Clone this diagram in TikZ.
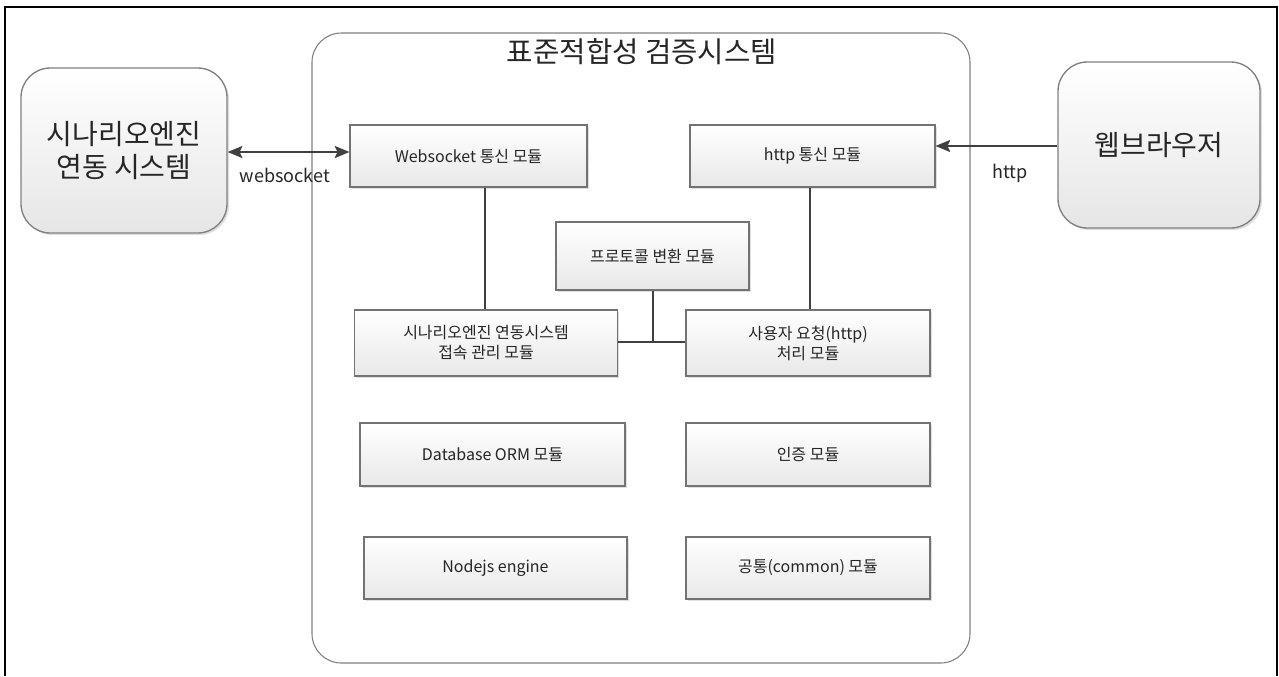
\documentclass[tikz,border=0pt]{standalone}
\usepackage{fontspec}
\setmainfont{Noto Sans CJK KR}
\usetikzlibrary{arrows.meta,shadows}
\begin{document}
\begin{tikzpicture}[x=0.75pt,y=-0.75pt,
  modbox/.style={draw=black!55, line width=0.8pt, top color=white, bottom color=black!9,
    drop shadow={opacity=0.25, shadow xshift=1.2pt, shadow yshift=-1.2pt},
    text=black!85, font=\fontsize{12}{15}\selectfont, align=center, inner sep=0pt},
  extsys/.style={draw=black!50, line width=1pt, rounded corners=22pt,
    top color=white, bottom color=black!10,
    drop shadow={opacity=0.25, shadow xshift=1.5pt, shadow yshift=-1.5pt},
    text=black!85, font=\fontsize{21}{25}\selectfont, align=center, inner sep=0pt},
  link/.style={draw=black!75, line width=1.6pt},
  head/.tip={Stealth[length=11pt,width=9pt,inset=2pt]},
  lbl/.style={text=black!85, font=\fontsize{13.5}{16}\selectfont, inner sep=0pt}]
\useasboundingbox (0,0) rectangle (1279,676);
% frame (open at the bottom)
\draw[line width=1.5pt, black] (5,676) -- (5,7) -- (1277,7) -- (1277,676);

% main system container
\node[draw=black!50, line width=0.8pt, rounded corners=22pt, minimum width=658*0.75pt,
  minimum height=630*0.75pt, inner sep=0pt] (sys) at (641,348) {};
\node[text=black!85, font=\fontsize{21.5}{25}\selectfont, inner sep=0pt] (title) at (642,52) {표준적합성 검증시스템};

% external systems
\node[extsys, minimum width=206*0.75pt, minimum height=165*0.75pt] (engine) at (124,150.5) {시나리오엔진\\연동 시스템};
\node[extsys, minimum width=202*0.75pt, minimum height=166*0.75pt] (browser) at (1159,145) {웹브라우저};

% modules
\node[modbox, minimum width=237*0.75pt, minimum height=62*0.75pt] (ws) at (468.5,156) {Websocket 통신 모듈};
\node[modbox, minimum width=245*0.75pt, minimum height=62*0.75pt] (hc) at (812.5,156) {http 통신 모듈};
\node[modbox, minimum width=193*0.75pt, minimum height=68*0.75pt] (proto) at (652.5,256) {프로토콜 변환 모듈};
\node[modbox, minimum width=263*0.75pt, minimum height=66*0.75pt] (conn) at (486,343) {시나리오엔진 연동시스템\\접속 관리 모듈};
\node[modbox, minimum width=244*0.75pt, minimum height=66*0.75pt] (req) at (808,343) {사용자 요청(http)\\처리 모듈};
\node[modbox, minimum width=265*0.75pt, minimum height=63*0.75pt] (db) at (492.5,454.5) {Database ORM 모듈};
\node[modbox, minimum width=244*0.75pt, minimum height=63*0.75pt] (auth) at (808,454.5) {인증 모듈};
\node[modbox, minimum width=263*0.75pt, minimum height=62*0.75pt] (node) at (495.5,568) {Nodejs engine};
\node[modbox, minimum width=244*0.75pt, minimum height=62*0.75pt] (common) at (808,568) {공통(common) 모듈};

% connectors
\draw[link, head-head] (engine.east |- 0,152) -- (ws.west |- 0,152);
\node[lbl] (wslbl) at (285,175) {websocket};
\draw[link, -head] (browser.west |- 0,146) -- (hc.east |- 0,146);
\node[lbl] (httplbl) at (1010,173) {http};

\draw[link] (ws.south -| 485,0) -- (conn.north -| 485,0);
\draw[link] (hc.south -| 810,0) -- (req.north -| 810,0);
\coordinate (jn) at (653,342);
\draw[link] (proto.south -| jn) -- (jn);
\draw[link] (conn.east |- jn) -- (req.west |- jn);
\end{tikzpicture}
\end{document}
